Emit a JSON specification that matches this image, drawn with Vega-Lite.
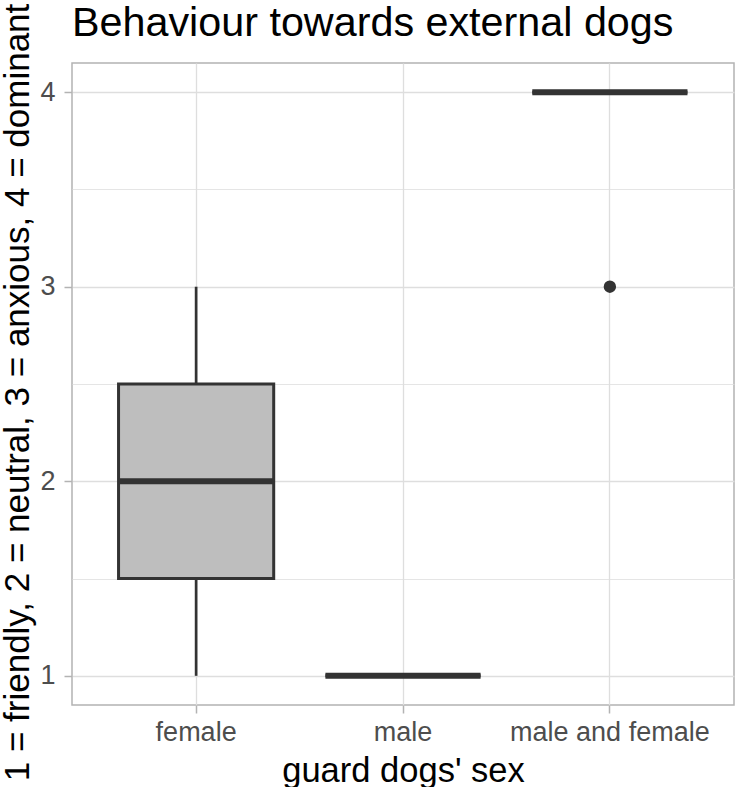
{
  "$schema": "https://vega.github.io/schema/vega-lite/v6.json",
  "width": 662,
  "height": 642,
  "autosize": {"type": "none"},
  "padding": {"left": 72, "top": 63, "right": 3, "bottom": 82},
  "background": "white",
  "title": {
    "text": "Behaviour towards external dogs",
    "anchor": "start",
    "frame": "group",
    "font": "Liberation Sans",
    "fontSize": 41.3,
    "fontWeight": "normal",
    "color": "#000000",
    "baseline": "alphabetic",
    "offset": 0,
    "dy": 74
  },
  "config": {
    "font": "Liberation Sans",
    "view": {"stroke": "#B3B3B3", "strokeWidth": 1.5},
    "axis": {
      "domain": false,
      "gridColor": "#DEDEDE",
      "gridWidth": 1.3,
      "tickColor": "#B3B3B3",
      "tickWidth": 1.5,
      "tickSize": 8,
      "labelColor": "#4D4D4D",
      "labelFont": "Liberation Sans",
      "labelFontSize": 27,
      "labelLimit": 0,
      "titleFont": "Liberation Sans",
      "titleFontSize": 34.5,
      "titleFontWeight": "normal",
      "titleColor": "#000000",
      "titleLimit": 0
    }
  },
  "datasets": {
    "summary": [
      {"sex": "female", "lower": 1, "q1": 1.5, "median": 2, "q3": 2.5, "upper": 3},
      {"sex": "male", "lower": 1, "q1": 1, "median": 1, "q3": 1, "upper": 1},
      {"sex": "male and female", "lower": 4, "q1": 4, "median": 4, "q3": 4, "upper": 4}
    ],
    "outliers": [
      {"sex": "male and female", "value": 3}
    ]
  },
  "resolve": {"axis": {"y": "independent"}},
  "layer": [
    {
      "data": {"name": "summary"},
      "mark": {"type": "rule", "color": "#333333", "strokeWidth": 2.7},
      "encoding": {
        "x": {
          "field": "sex",
          "type": "nominal",
          "sort": ["female", "male", "male and female"],
          "scale": {"type": "band", "paddingInner": 0, "paddingOuter": 0.1},
          "axis": {
            "title": "guard dogs' sex",
            "labelAngle": 0,
            "labelPadding": 6,
            "grid": true,
            "titleBaseline": "alphabetic",
            "titleX": 331,
            "titleY": 76
          }
        },
        "y": {
          "field": "lower",
          "type": "quantitative",
          "scale": {"domain": [0.85, 4.15], "nice": false, "zero": false},
          "axis": {
            "orient": "left",
            "values": [1.5, 2.5, 3.5],
            "grid": true,
            "gridWidth": 0.8,
            "ticks": false,
            "labels": false,
            "title": null
          }
        },
        "y2": {"field": "q1"}
      }
    },
    {
      "data": {"name": "summary"},
      "mark": {"type": "rule", "color": "#333333", "strokeWidth": 2.7},
      "encoding": {
        "x": {"field": "sex", "type": "nominal", "sort": ["female", "male", "male and female"]},
        "y": {
          "field": "q3",
          "type": "quantitative",
          "axis": {
            "orient": "left",
            "values": [1, 2, 3, 4],
            "grid": true,
            "labelPadding": 9,
            "title": "1 = friendly, 2 = neutral, 3 = anxious, 4 = dominant",
            "titleFontSize": 35,
            "titleAngle": 270,
            "titleAlign": "center",
            "titleBaseline": "alphabetic",
            "titleX": -44,
            "titleY": 329
          }
        },
        "y2": {"field": "upper"}
      }
    },
    {
      "data": {"name": "summary"},
      "mark": {"type": "bar", "fill": "#BEBEBE", "stroke": "#333333", "strokeWidth": 3, "width": {"band": 0.75}},
      "encoding": {
        "x": {"field": "sex", "type": "nominal", "sort": ["female", "male", "male and female"]},
        "y": {"field": "q1", "type": "quantitative", "axis": null},
        "y2": {"field": "q3"}
      }
    },
    {
      "data": {"name": "summary"},
      "mark": {"type": "bar", "fill": "transparent", "stroke": "#333333", "strokeWidth": 6, "width": {"band": 0.75}},
      "encoding": {
        "x": {"field": "sex", "type": "nominal", "sort": ["female", "male", "male and female"]},
        "y": {"field": "median", "type": "quantitative", "axis": null},
        "y2": {"field": "median"}
      }
    },
    {
      "data": {"name": "outliers"},
      "mark": {"type": "point", "filled": true, "color": "#333333", "opacity": 1, "size": 154},
      "encoding": {
        "x": {"field": "sex", "type": "nominal", "sort": ["female", "male", "male and female"]},
        "y": {"field": "value", "type": "quantitative", "axis": null}
      }
    }
  ]
}
